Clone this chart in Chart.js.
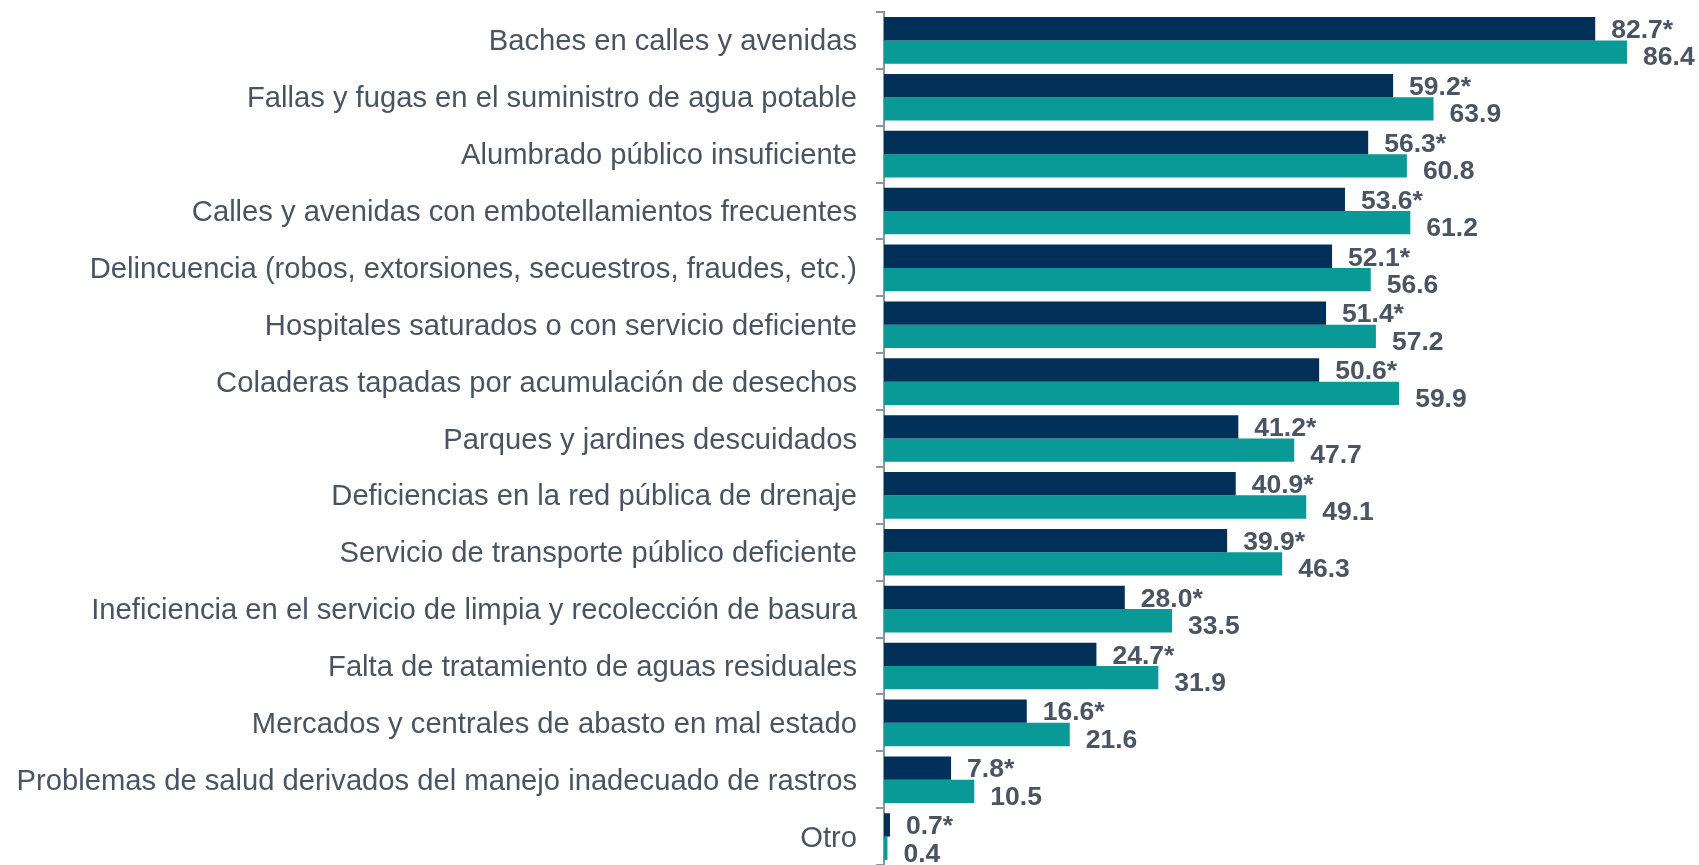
<!DOCTYPE html>
<html>
<head>
<meta charset="utf-8">
<script src="https://cdn.jsdelivr.net/npm/chart.js@4.4.1/dist/chart.umd.min.js"></script>
<style>
  html,body{margin:0;padding:0;background:#fff;}
  #wrap{width:1699px;height:865px;position:relative;}
</style>
</head>
<body>
<div id="wrap"><canvas id="chart"></canvas></div>
<script>
// ── data ─────────────────────────────────────────────
const categories = [
  'Baches en calles y avenidas',
  'Fallas y fugas en el suministro de agua potable',
  'Alumbrado público insuficiente',
  'Calles y avenidas con embotellamientos frecuentes',
  'Delincuencia (robos, extorsiones, secuestros, fraudes, etc.)',
  'Hospitales saturados o con servicio deficiente',
  'Coladeras tapadas por acumulación de desechos',
  'Parques y jardines descuidados',
  'Deficiencias en la red pública de drenaje',
  'Servicio de transporte público deficiente',
  'Ineficiencia en el servicio de limpia y recolección de basura',
  'Falta de tratamiento de aguas residuales',
  'Mercados y centrales de abasto en mal estado',
  'Problemas de salud derivados del manejo inadecuado de rastros',
  'Otro'
];
const serieA = [82.7, 59.2, 56.3, 53.6, 52.1, 51.4, 50.6, 41.2, 40.9, 39.9, 28.0, 24.7, 16.6, 7.8, 0.7];
const serieB = [86.4, 63.9, 60.8, 61.2, 56.6, 57.2, 59.9, 47.7, 49.1, 46.3, 33.5, 31.9, 21.6, 10.5, 0.4];
const suffixA = '*';   // diferencia estadísticamente significativa
const suffixB = '';

const NAVY = '#002f57';
const TEAL = '#099996';
const AXIS = '#8c96a0';
const TXT  = '#4a5461';

// value labels to the right of each bar
const valueLabels = {
  id:'valueLabels',
  afterDatasetsDraw(chart){
    const ctx = chart.ctx;
    ctx.save();
    ctx.font = 'bold 26.5px Arial, "Liberation Sans", sans-serif';
    ctx.fillStyle = '#4b5561';
    ctx.textAlign = 'left';
    ctx.textBaseline = 'middle';
    chart.data.datasets.forEach((ds, di) => {
      const meta = chart.getDatasetMeta(di);
      meta.data.forEach((bar, i) => {
        const txt = ds.data[i].toFixed(1) + ds.suffix;
        ctx.fillText(txt, bar.x + 16, bar.y + (di === 1 ? 6 : 2));
      });
    });
    ctx.restore();
  }
};

new Chart(document.getElementById('chart'), {
  type:'bar',
  plugins:[valueLabels],
  data:{
    labels:categories,
    datasets:[
      {label:'A', data:serieA, suffix:suffixA, backgroundColor:NAVY,
       categoryPercentage:0.82, barPercentage:1},
      {label:'B', data:serieB, suffix:suffixB, backgroundColor:TEAL,
       categoryPercentage:0.82, barPercentage:1}
    ]
  },
  options:{
    indexAxis:'y',
    responsive:true, maintainAspectRatio:false, animation:false,
    devicePixelRatio:1,
    layout:{padding:{top:12, right:41, bottom:0, left:0}},
    scales:{
      x:{display:false, min:0, max:90},
      y:{
        afterFit(s){ s.width = 884; s.paddingTop = 0; s.paddingBottom = 0; },
        border:{display:true, color:AXIS, width:2},
        grid:{display:true, drawOnChartArea:false, drawTicks:true, tickLength:8,
              color:AXIS, lineWidth:2},
        ticks:{color:TXT, padding:19, autoSkip:false, labelOffset:2,
               font:{family:'Arial, "Liberation Sans", sans-serif', size:29.2}}
      }
    },
    plugins:{
      legend:{display:false},
      tooltip:{enabled:false}
    }
  }
});
</script>
</body>
</html>
